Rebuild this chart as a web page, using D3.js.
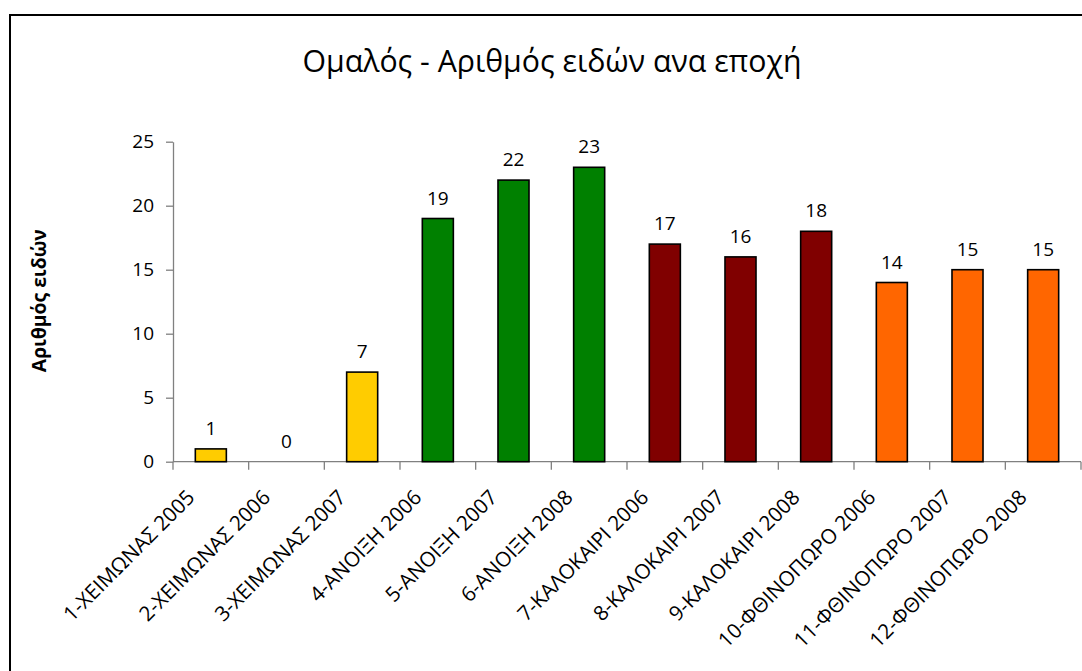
<!DOCTYPE html>
<html>
<head>
<meta charset="utf-8">
<script src="https://cdn.jsdelivr.net/npm/d3@7"></script>
<style>
  html, body { margin: 0; padding: 0; background: #fff; }
  svg { display: block; }
  text { font-family: "Open Sans", "DejaVu Sans", sans-serif; fill: #000; }
</style>
</head>
<body>
<svg id="chart" width="1082" height="671"></svg>
<script>
// ---- data ----
const categories = [
  "1-ΧΕΙΜΩΝΑΣ 2005", "2-ΧΕΙΜΩΝΑΣ 2006", "3-ΧΕΙΜΩΝΑΣ 2007",
  "4-ΑΝΟΙΞΗ 2006", "5-ΑΝΟΙΞΗ 2007", "6-ΑΝΟΙΞΗ 2008",
  "7-ΚΑΛΟΚΑΙΡΙ 2006", "8-ΚΑΛΟΚΑΙΡΙ 2007", "9-ΚΑΛΟΚΑΙΡΙ 2008",
  "10-ΦΘΙΝΟΠΩΡΟ 2006", "11-ΦΘΙΝΟΠΩΡΟ 2007", "12-ΦΘΙΝΟΠΩΡΟ 2008"
];
const values = [1, 0, 7, 19, 22, 23, 17, 16, 18, 14, 15, 15];
const seasons = ["winter", "winter", "winter", "spring", "spring", "spring",
                 "summer", "summer", "summer", "autumn", "autumn", "autumn"];
const seasonNames = ["winter", "spring", "summer", "autumn"];
const seasonColors = ["#FFCC00", "#008000", "#800000", "#FF6600"];
const yTicks = [0, 5, 10, 15, 20, 25];
const titleText = "Ομαλός - Αριθμός ειδών ανα εποχή";
const yTitle = "Αριθμός ειδών";

// ---- layout ----
const svg = d3.select("#chart");
const plot = { left: 173, right: 1081, top: 141.7, bottom: 461.7 };

const x = d3.scaleBand().domain(categories).range([plot.left, plot.right]).padding(0);
const y = d3.scaleLinear().domain([0, 25]).range([plot.bottom, plot.top]);
const color = d3.scaleOrdinal().domain(seasonNames).range(seasonColors);
const barW = x.bandwidth() * 0.41;

function fitSize(sel, base, target) {
  sel.attr("font-size", base);
  const w = sel.node().getComputedTextLength();
  const s = base * target / w;
  sel.attr("font-size", s);
  return s;
}

// outer frame (clipped by the window at right/bottom)
svg.append("rect")
  .attr("x", 10).attr("y", 15).attr("width", 1200).attr("height", 800)
  .attr("fill", "none").attr("stroke", "#000").attr("stroke-width", 2);

// title
const title = svg.append("text")
  .attr("x", 552).attr("y", 71.5)
  .attr("text-anchor", "middle")
  .text(titleText);
fitSize(title, 26, 499);

// y axis title
const yt = svg.append("text")
  .attr("transform", `translate(46,${(plot.top + plot.bottom) / 2 - 1}) rotate(-90)`)
  .attr("text-anchor", "middle")
  .attr("font-weight", "bold")
  .text(yTitle);
fitSize(yt, 15, 143);

// y axis
const yAxis = d3.axisLeft(y).tickValues(yTicks).tickSize(7).tickPadding(12).tickSizeOuter(0);
const gy = svg.append("g").attr("transform", `translate(${plot.left},0)`).call(yAxis);
gy.select(".domain").attr("stroke", "#808080").attr("stroke-width", 1.3);
gy.selectAll(".tick line").attr("stroke", "#808080").attr("stroke-width", 1.3);
gy.selectAll(".tick text").attr("font-size", 19).attr("font-family", "Open Sans").attr("fill", "#000");

// x axis line and boundary ticks
const gx = svg.append("g");
gx.append("line")
  .attr("x1", plot.left).attr("x2", plot.right)
  .attr("y1", y(0)).attr("y2", y(0))
  .attr("stroke", "#808080").attr("stroke-width", 1.3);
const boundaries = categories.map(c => x(c)).concat([x(categories[categories.length - 1]) + x.bandwidth()]);
gx.selectAll("line.tick").data(boundaries).join("line")
  .attr("class", "tick")
  .attr("x1", d => d).attr("x2", d => d)
  .attr("y1", y(0)).attr("y2", y(0) + 8)
  .attr("stroke", "#808080").attr("stroke-width", 1.3);

// bars
svg.selectAll("rect.bar").data(categories).join("rect")
  .attr("class", "bar")
  .attr("x", c => x(c) + (x.bandwidth() - barW) / 2)
  .attr("width", barW)
  .attr("y", (c, i) => y(values[i]))
  .attr("height", (c, i) => y(0) - y(values[i]))
  .attr("fill", (c, i) => color(seasons[i]))
  .attr("stroke", "#000").attr("stroke-width", 1.6)
  .style("display", (c, i) => values[i] === 0 ? "none" : null);

// value labels
svg.selectAll("text.val").data(categories).join("text")
  .attr("class", "val")
  .attr("x", c => x(c) + x.bandwidth() / 2)
  .attr("y", (c, i) => y(values[i]) - 14)
  .attr("text-anchor", "middle")
  .attr("font-size", 19)
  .text((c, i) => values[i]);

// category labels
const cats = svg.selectAll("text.cat").data(categories).join("text")
  .attr("class", "cat")
  .attr("text-anchor", "end")
  .attr("transform", c => `translate(${x(c) + x.bandwidth() / 2 - 15},${y(0) + 37}) rotate(-45)`)
  .text(c => c);
const catSize = fitSize(d3.select(cats.nodes()[4]), 17, 148);
cats.attr("font-size", catSize);
</script>
</body>
</html>
